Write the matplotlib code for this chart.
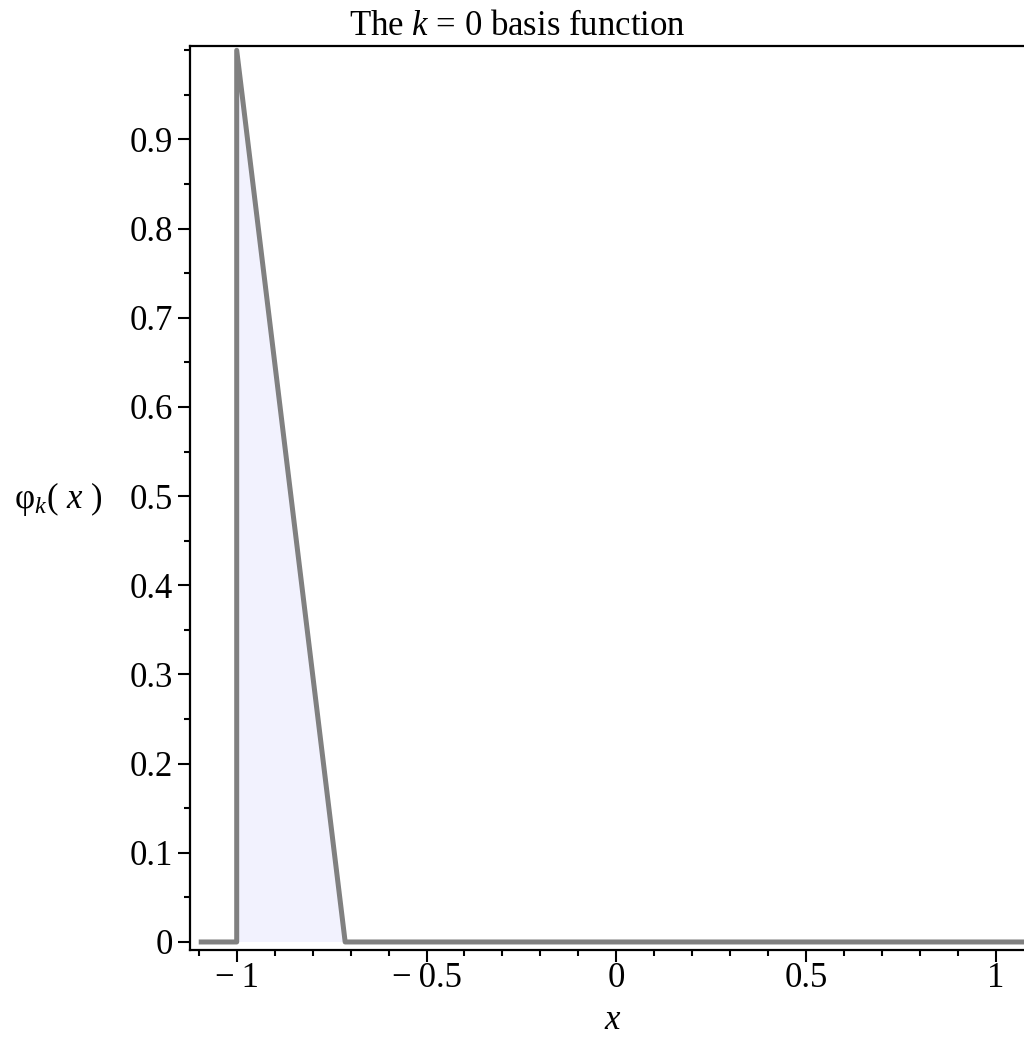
import numpy as np
import matplotlib
matplotlib.use("Agg")
import matplotlib.pyplot as plt
from matplotlib.ticker import MultipleLocator, FixedLocator

plt.rcParams['font.family'] = ['Liberation Serif', 'DejaVu Serif']
plt.rcParams['mathtext.fontset'] = 'custom'
plt.rcParams['mathtext.rm'] = 'Liberation Serif'
plt.rcParams['mathtext.it'] = 'Liberation Serif:italic'

# basis function phi_0: hat piece from x=-1 to x=-5/7
x_pts = [-1.1, -1.0, -1.0, -5 / 7, 1.1]
y_pts = [0.0, 0.0, 1.0, 0.0, 0.0]
fill_x = [-1.0, -1.0, -5 / 7]
fill_y = [0.0, 1.0, 0.0]

x_ticks = [-1, -0.5, 0, 0.5, 1]
x_labels = ['\u2212\u20091', '\u2212\u20090.5', '0', '0.5', '1']
y_ticks = [0, 0.1, 0.2, 0.3, 0.4, 0.5, 0.6, 0.7, 0.8, 0.9]
y_labels = ['0', '0.1', '0.2', '0.3', '0.4', '0.5', '0.6', '0.7', '0.8', '0.9']

W, H = 1024, 1038
fig = plt.figure(figsize=(W / 100, H / 100), dpi=100)
ax = fig.add_axes([190 / W, 1 - 950 / H, (1024 - 190) / W + 0.001, (950 - 46) / H])

ax.fill(fill_x, fill_y, color='#f2f2fe', lw=0, zorder=1)
ax.plot(x_pts, y_pts, color='#808080', lw=3.6, solid_joinstyle='round',
        solid_capstyle='butt', zorder=2)

ax.set_xlim(-1.123, 1.0764)
ax.set_ylim(-0.009, 1.0048)

ax.xaxis.set_major_locator(FixedLocator(x_ticks))
ax.set_xticklabels(x_labels)
ax.xaxis.set_minor_locator(MultipleLocator(0.1))
ax.yaxis.set_major_locator(FixedLocator(y_ticks))
ax.set_yticklabels(y_labels)
ax.yaxis.set_minor_locator(MultipleLocator(0.05))

ax.tick_params(which='both', direction='out', width=1.5, colors='black',
               labelsize=25, top=False, right=False)
ax.tick_params(which='major', length=8.5)
ax.tick_params(which='minor', length=4.5)
ax.tick_params(axis='x', pad=0)
ax.tick_params(axis='y', pad=4)

for s in ['left', 'bottom', 'top']:
    ax.spines[s].set_linewidth(1.6)
ax.spines['right'].set_visible(False)

fig.text(517 / W, 1 - 35 / H, 'The $k$ = 0 basis function', ha='center',
         va='baseline', fontsize=25)
fig.text(58 / W, 1 - 508 / H, '\u03c6$_k$( $x$ )', ha='center',
         va='baseline', fontsize=25)
fig.text(613 / W, 1 - 1029 / H, '$x$', ha='center', va='baseline', fontsize=25)

fig.savefig('out.png', dpi=100)
